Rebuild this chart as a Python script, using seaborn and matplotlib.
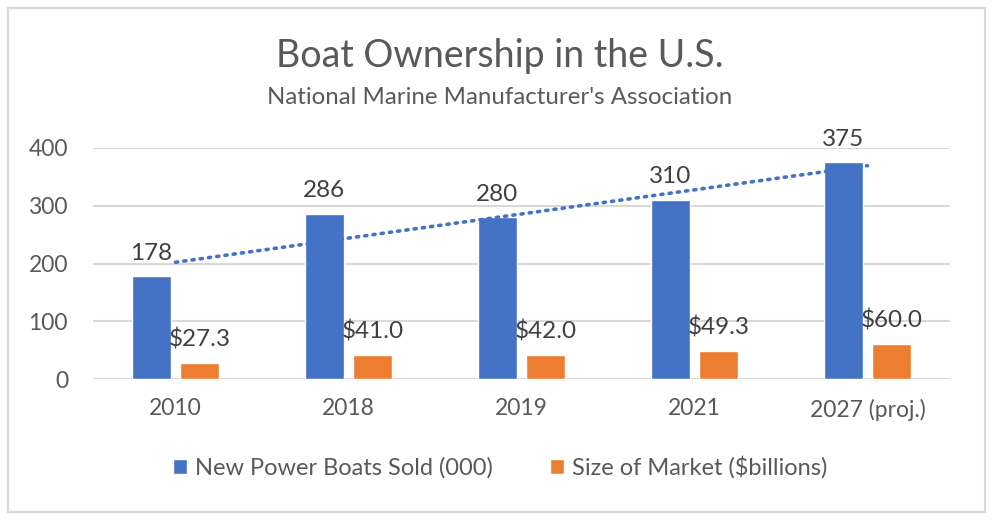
import numpy as np
import pandas as pd
import matplotlib
matplotlib.use("Agg")
import matplotlib.pyplot as plt
import seaborn as sns
from matplotlib.patches import Rectangle

categories = ["2010", "2018", "2019", "2021", "2027 (proj.)"]
boats_sold = [178, 286, 280, 310, 375]
market_size = [27.3, 41.0, 42.0, 49.3, 60.0]
series_names = ["New Power Boats Sold (000)", "Size of Market ($billions)"]
y_ticks = [0, 100, 200, 300, 400]

BLUE = "#4472C4"
ORANGE = "#ED7D31"
GRID = "#D9D9D9"
TXT = "#595959"
LBL = "#404040"

sns.set_theme(style="white")
plt.rcParams["font.family"] = ["Lato", "DejaVu Sans"]

df = pd.DataFrame({
    "year": categories * 2,
    "value": boats_sold + market_size,
    "series": [series_names[0]] * len(categories) + [series_names[1]] * len(categories),
})

fig = plt.figure(figsize=(10, 5.24), dpi=100)
ax = fig.add_axes([0.093, 1 - 379 / 524, 0.857, (379 - 148) / 524])

sns.barplot(data=df, x="year", y="value", hue="series", order=categories,
            hue_order=series_names, palette=[BLUE, ORANGE], width=0.56, gap=0.2,
            saturation=1, ax=ax, legend=True)

ax.set_ylim(0, 400)
ax.set_yticks(y_ticks)
ax.set_xlabel("")
ax.set_ylabel("")
for s in ax.spines.values():
    s.set_visible(False)
ax.yaxis.grid(True, color=GRID, linewidth=1.5)
ax.set_axisbelow(True)
ax.tick_params(axis="y", length=0, pad=18, labelsize=16.5, labelcolor=TXT)
ax.tick_params(axis="x", length=0, pad=14, labelsize=16.5, labelcolor=TXT)

# data labels
ax.bar_label(ax.containers[0], labels=[f"{v:d}" for v in boats_sold],
             padding=9, fontsize=17.5, color=LBL)
ax.bar_label(ax.containers[1], labels=[f"${v:.1f}" for v in market_size],
             padding=9, fontsize=17.5, color=LBL)

# linear trendline of boats sold
xs = np.arange(len(categories))
coef = np.polyfit(xs, boats_sold, 1)
ax.plot(xs, np.polyval(coef, xs), color=BLUE, linewidth=2.6,
        linestyle=(0, (0.6, 1.7)), dash_capstyle="round", zorder=5)

# legend
leg = ax.legend(loc="center", bbox_to_anchor=(0.5, 1 - 467 / 524),
                bbox_transform=fig.transFigure, ncol=2, frameon=False,
                fontsize=17, handlelength=0.6, handleheight=0.6,
                handletextpad=0.35, columnspacing=2.4)
for t in leg.get_texts():
    t.set_color(TXT)

fig.text(0.5, 1 - 56 / 524, "Boat Ownership in the U.S.", ha="center", va="center",
         fontsize=27, color=TXT)
fig.text(0.5, 1 - 97 / 524, "National Marine Manufacturer's Association",
         ha="center", va="center", fontsize=17.3, color=TXT)

fig.patches.append(Rectangle((0.008, 1 - 512 / 524), 0.977, (512 - 8) / 524,
                             transform=fig.transFigure, fill=False,
                             edgecolor=GRID, linewidth=1.5))

fig.savefig("out.png", dpi=100, facecolor="white")
